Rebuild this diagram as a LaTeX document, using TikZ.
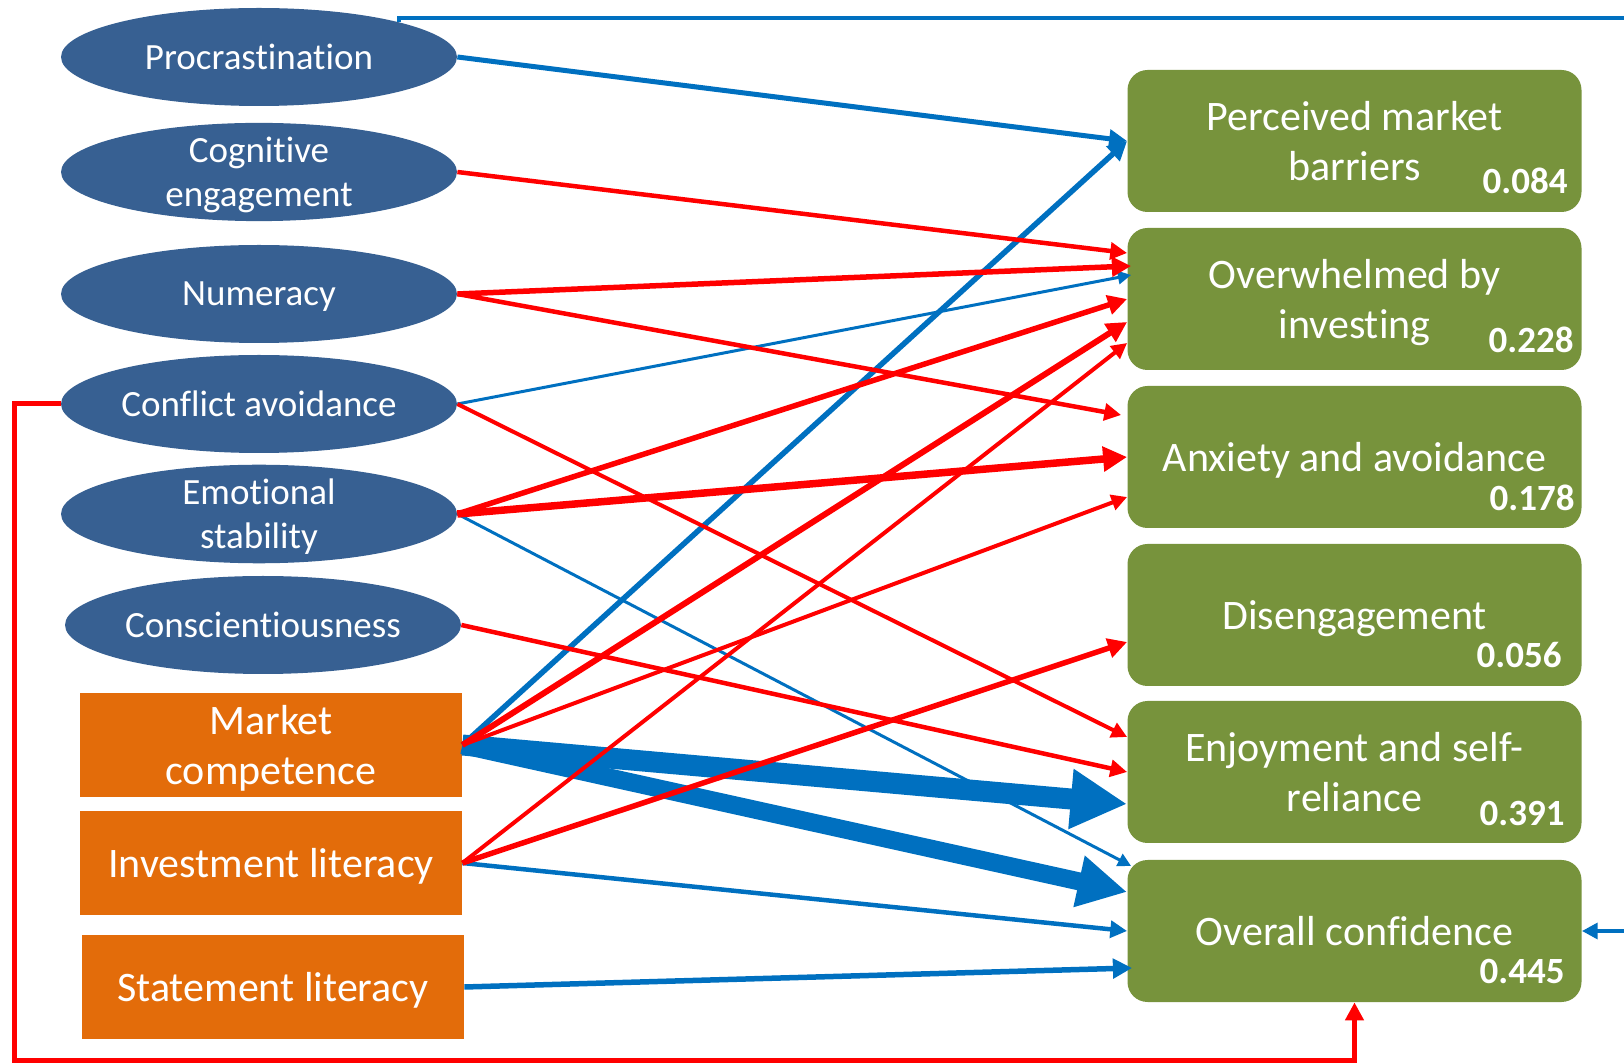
\documentclass[tikz,border=0pt]{standalone}
\usepackage{fontspec}
\setmainfont{Carlito}[Ligatures=NoCommon]
\definecolor{ellblue}{RGB}{55,96,146}
\definecolor{skillorange}{RGB}{227,108,10}
\definecolor{outgreen}{RGB}{119,147,60}
\definecolor{linkblue}{RGB}{0,112,192}
\definecolor{linkred}{RGB}{255,0,0}
\usetikzlibrary{arrows.meta,positioning,shapes.geometric,calc}

\begin{document}
\begin{tikzpicture}[
  x=0.5pt,y=-0.5pt,
  trait/.style={ellipse,fill=ellblue,minimum width=198pt,minimum height=49pt,inner sep=0pt,
    text depth=0pt,text=white,align=center,font=\fontsize{18.5}{22}\selectfont},
  skill/.style={fill=skillorange,minimum width=191pt,minimum height=52pt,inner sep=0pt,
    text depth=0pt,text=white,align=center,font=\fontsize{21}{25}\selectfont},
  outcome/.style={fill=outgreen,rounded corners=10pt,minimum width=227pt,minimum height=71pt,
    inner sep=0pt,text depth=0pt,text=white,align=center,font=\fontsize{21}{25}\selectfont},
  rsq/.style={anchor=base east,inner sep=0pt,text=white,font=\fontsize{18.5}{22}\selectfont\bfseries},
  poslink/.style={draw=linkblue,line width=#1,-{Triangle[length=3pt 2.4,width=3pt 2.4]}},
  neglink/.style={draw=linkred,line width=#1,-{Triangle[length=3pt 2.4,width=3pt 2.4]}}
]
  \useasboundingbox (0,0) rectangle (1624,1063);
  % Predictors
  \node[trait] (proc) at (259,57) {Procrastination};
  \node[trait] (cogn) at (259,172) {Cognitive\\engagement};
  \node[trait] (numer) at (259,294) {Numeracy};
  \node[trait] (confl) at (259,404) {Conflict avoidance};
  \node[trait] (emot) at (259,514) {Emotional\\stability};
  \node[trait] (consc) at (263,625) {Conscientiousness};
  \node[skill] (mcomp) at (271,745) {Market\\competence};
  \node[skill] (invlit) at (271,863) {Investment literacy};
  \node[skill] (stlit) at (273,987) {Statement literacy};
  % Outcomes
  \node[outcome] (pmb) at (1354.5,141) {Perceived market\\barriers};
  \node[outcome] (owi) at (1354.5,299) {Overwhelmed by\\investing};
  \node[outcome] (anx) at (1354.5,457) {Anxiety and avoidance};
  \node[outcome] (dis) at (1354.5,615) {Disengagement};
  \node[outcome] (enj) at (1354.5,772) {Enjoyment and self-\\reliance};
  \node[outcome] (conf) at (1354.5,931) {Overall confidence};
  \node[rsq] (pmb-r) at ($(pmb.south east)+(-14,-19)$) {0.084};
  \node[rsq] (owi-r) at ($(owi.south east)+(-8,-18)$) {0.228};
  \node[rsq] (anx-r) at ($(anx.south east)+(-7,-18)$) {0.178};
  \node[rsq] (dis-r) at ($(dis.south east)+(-20,-19)$) {0.056};
  \node[rsq] (enj-r) at ($(enj.south east)+(-17,-18)$) {0.391};
  \node[rsq] (conf-r) at ($(conf.south east)+(-17,-19)$) {0.445};
  % Positive paths
  \draw[poslink=2.5pt] (proc.east) -- (pmb.west);
  \draw[poslink=2.75pt] (mcomp.east) -- (pmb.west);
  \draw[poslink=1.5pt] (confl.east) -- ($(owi.west)+(4,-24)$);
  \draw[poslink=1.5pt] (emot.east) -- ($(conf.west)+(4,-65)$);
  \draw[poslink=10.5pt] (mcomp.east) -- ($(enj.west)+(0,32)$);
  \draw[poslink=9pt] (mcomp.east) -- ($(conf.west)+(0,-39)$);
  \draw[poslink=2.25pt] (invlit.east) -- (conf.west);
  \draw[poslink=2.75pt] (stlit.east) -- ($(conf.west)+(5,37)$);
  % Negative paths
  \draw[neglink=2.25pt] (cogn.east) -- ($(owi.west)+(0,-46)$);
  \draw[neglink=2.75pt] (numer.east) -- ($(owi.west)+(4,-33)$);
  \draw[neglink=2.25pt] (numer.east) -- ($(anx.west)+(-6,-42)$);
  \draw[neglink=2pt] (confl.east) -- ($(enj.west)+(0,-35)$);
  \draw[neglink=2.75pt] (emot.east) -- (owi.west);
  \draw[neglink=3.75pt] (emot.east) -- (anx.west);
  \draw[neglink=2.25pt] (consc.east) -- (enj.west);
  \draw[neglink=3pt] (mcomp.east) -- ($(owi.west)+(0,23)$);
  \draw[neglink=2pt] (mcomp.east) -- ($(anx.west)+(0,40)$);
  \draw[neglink=2pt] (invlit.east) -- ($(owi.west)+(0,44)$);
  \draw[neglink=2.75pt] (invlit.east) -- ($(dis.west)+(0,27)$);
  % Loops round the figure
  \coordinate (topright) at (1700,18);
  \coordinate (botleft) at (14,1060);
  \draw[poslink=2pt] (proc.14) |- (topright) |- (conf.east);
  \draw[neglink=2.5pt] (confl.west) -| (botleft) -| (conf.south);
\end{tikzpicture}
\end{document}
